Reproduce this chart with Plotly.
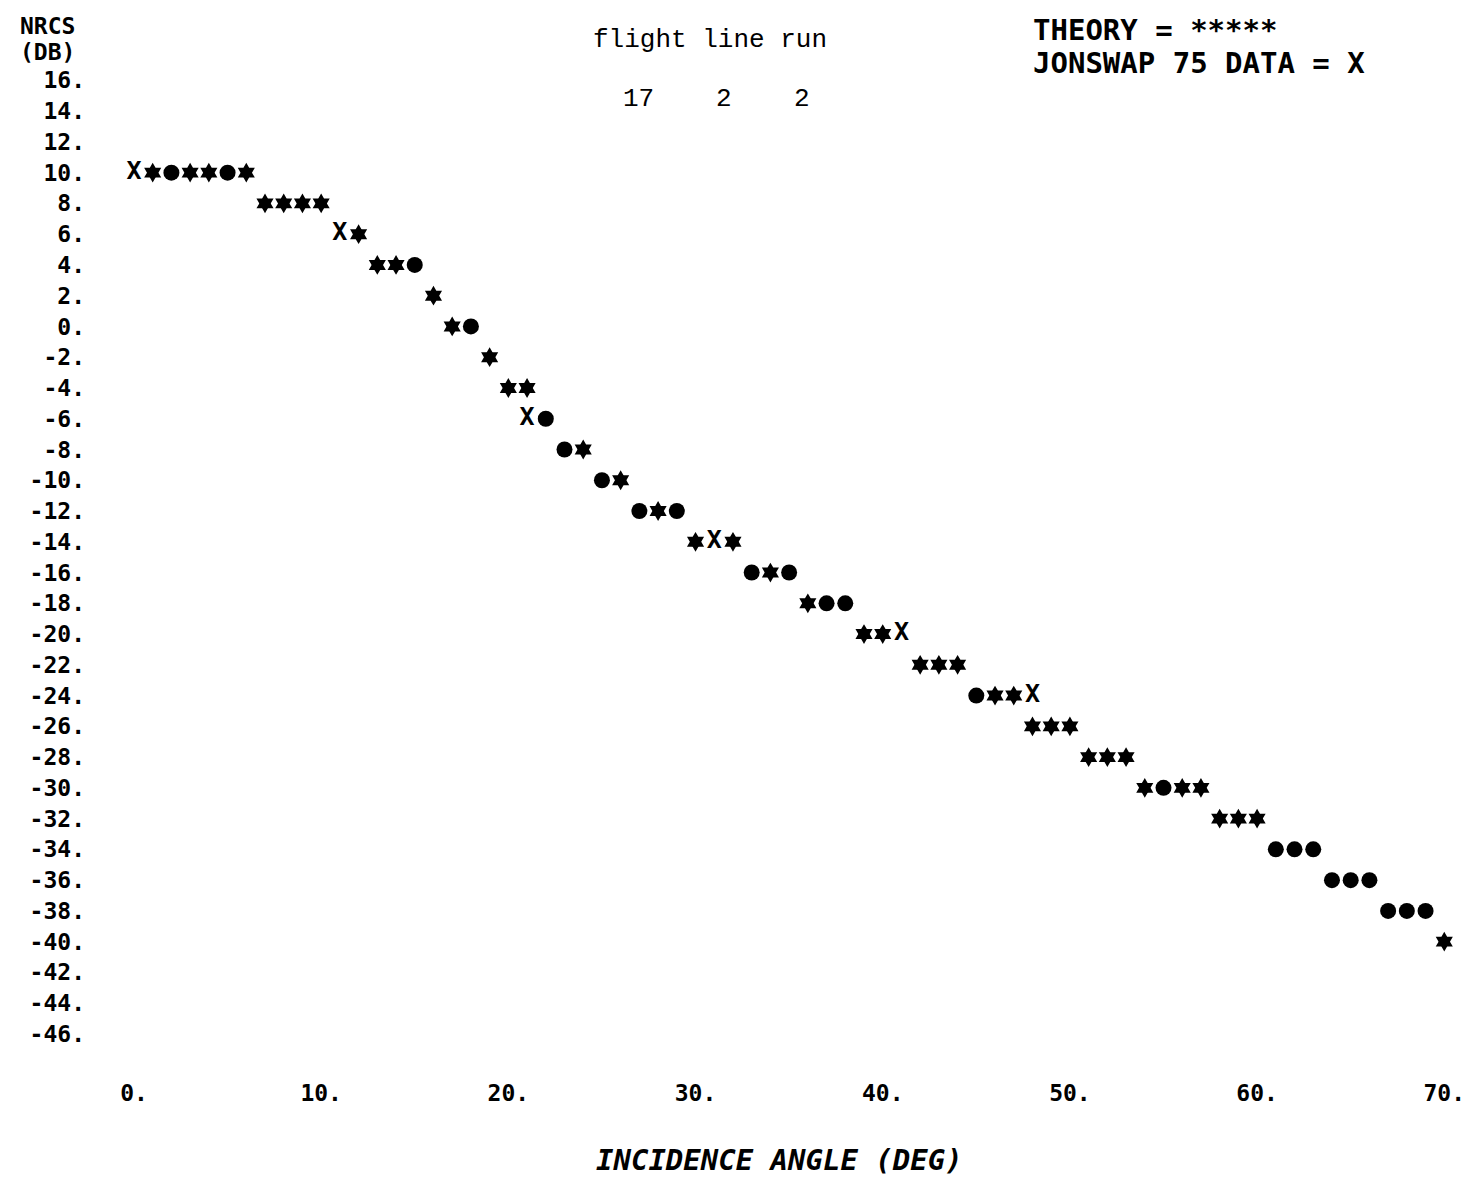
import plotly.graph_objects as go

# Theoretical NRCS, one printer column per degree of incidence angle,
# quantised to the 2 dB print rows. Glyph "*" = asterisk, "o" = heavy dot.
theory_angle = [1, 2, 3, 4, 5, 6, 7, 8, 9, 10,
                12, 13, 14, 15, 16, 17, 18, 19, 20, 21, 22, 23, 24, 25, 26, 27, 28, 29, 30,
                32, 33, 34, 35, 36, 37, 38, 39, 40,
                42, 43, 44, 45, 46, 47, 48, 49, 50, 51, 52, 53, 54, 55, 56, 57, 58, 59, 60,
                61, 62, 63, 64, 65, 66, 67, 68, 69, 70]
theory_nrcs = [10, 10, 10, 10, 10, 10, 8, 8, 8, 8,
               6, 4, 4, 4, 2, 0, 0, -2, -4, -4, -6, -8, -8, -10, -10, -12, -12, -12, -14,
               -14, -16, -16, -16, -18, -18, -18, -20, -20,
               -22, -22, -22, -24, -24, -24, -26, -26, -26, -28, -28, -28, -30, -30, -30, -30,
               -32, -32, -32, -34, -34, -34, -36, -36, -36, -38, -38, -38, -40]
theory_glyph = ["*", "o", "*", "*", "o", "*", "*", "*", "*", "*",
                "*", "*", "*", "o", "*", "*", "o", "*", "*", "*", "o", "o", "*", "o", "*", "o", "*", "o", "*",
                "*", "o", "*", "o", "*", "o", "o", "*", "*",
                "*", "*", "*", "o", "*", "*", "*", "*", "*", "*", "*", "*", "*", "o", "*", "*",
                "*", "*", "*", "o", "o", "o", "o", "o", "o", "o", "o", "o", "*"]

# JONSWAP 75 measurements
data_angle = [0, 11, 21, 31, 41, 48]
data_nrcs = [10, 6, -6, -14, -20, -24]

x_tick_vals = [0, 10, 20, 30, 40, 50, 60, 70]
x_tick_text = ["0.", "10.", "20.", "30.", "40.", "50.", "60.", "70."]
y_tick_vals = list(range(16, -47, -2))
y_tick_text = [f"{v}." for v in y_tick_vals]

W, H = 1468, 1178
ML, MR, MT, MB = 119, 3, 65, 121
PW, PH = W - ML - MR, H - MT - MB

PRINT_FONT = "DejaVu Sans Mono"
TYPE_FONT = "Liberation Mono"


def px(x):
    return (x - ML) / PW


def py(y):
    return 1 - (y - MT) / PH


star_x = [a for a, g in zip(theory_angle, theory_glyph) if g == "*"]
star_y = [v for v, g in zip(theory_nrcs, theory_glyph) if g == "*"]
dot_x = [a for a, g in zip(theory_angle, theory_glyph) if g == "o"]
dot_y = [v for v, g in zip(theory_nrcs, theory_glyph) if g == "o"]

fig = go.Figure()
# asterisk glyph: a round core with six short points
fig.add_trace(go.Scatter(
    x=star_x, y=star_y, mode="markers", name="THEORY",
    marker=dict(symbol="circle", size=11, color="black", line=dict(width=0)),
    cliponaxis=False, hoverinfo="skip",
))
fig.add_trace(go.Scatter(
    x=star_x, y=star_y, mode="markers", name="THEORY",
    marker=dict(symbol="hexagram", size=15, color="black", line=dict(width=0)),
    cliponaxis=False,
))
fig.add_trace(go.Scatter(
    x=dot_x, y=dot_y, mode="markers", name="THEORY",
    marker=dict(symbol="circle", size=16, color="black", line=dict(width=0)),
    cliponaxis=False,
))
fig.add_trace(go.Scatter(
    x=data_angle, y=data_nrcs, mode="text", name="JONSWAP 75 DATA",
    text=["X"] * len(data_angle), textposition="middle center",
    textfont=dict(family=PRINT_FONT, size=25, color="black", weight="bold"),
    cliponaxis=False,
))

tick_font = dict(family=PRINT_FONT, size=23, color="black", weight="bold")

fig.update_layout(
    width=W, height=H,
    margin=dict(l=ML, r=MR, t=MT, b=MB, pad=0),
    paper_bgcolor="white", plot_bgcolor="white",
    showlegend=False,
    xaxis=dict(
        range=[-0.8, 71.0], tickvals=x_tick_vals, ticktext=x_tick_text,
        showgrid=False, zeroline=False, showline=False, ticks="",
        tickfont=tick_font, ticklabelstandoff=20,
    ),
    yaxis=dict(
        range=[-47.5, 17.0], tickvals=y_tick_vals, ticktext=y_tick_text,
        showgrid=False, zeroline=False, showline=False, ticks="",
        tickfont=tick_font, ticklabelstandoff=33,
    ),
)

bold_print = dict(family=PRINT_FONT, size=23, color="black", weight="bold")
legend_print = dict(family=PRINT_FONT, size=29, color="black", weight="bold")
typed = dict(family=TYPE_FONT, size=26, color="black")

notes = [
    ("NRCS", 18, 26, bold_print, "left"),
    ("(DB)", 18, 52, bold_print, "left"),
    ("flight line run", 592, 40, typed, "left"),
    ("17", 622, 99, typed, "left"),
    ("2", 715, 99, typed, "left"),
    ("2", 793, 99, typed, "left"),
    ("THEORY = *****", 1032, 30, legend_print, "left"),
    ("JONSWAP 75 DATA = X", 1032, 63, legend_print, "left"),
]
for text, x, y, font, anchor in notes:
    fig.add_annotation(
        text=text, xref="paper", yref="paper", x=px(x), y=py(y),
        xanchor=anchor, yanchor="middle", showarrow=False, font=font,
    )

fig.add_annotation(
    text="INCIDENCE ANGLE (DEG)", xref="paper", yref="paper",
    x=px(780), y=py(1160), xanchor="center", yanchor="middle", showarrow=False,
    font=dict(family=PRINT_FONT, size=29, color="black", weight="bold", style="italic"),
)

fig.write_html("out.html", config={"displayModeBar": False})
